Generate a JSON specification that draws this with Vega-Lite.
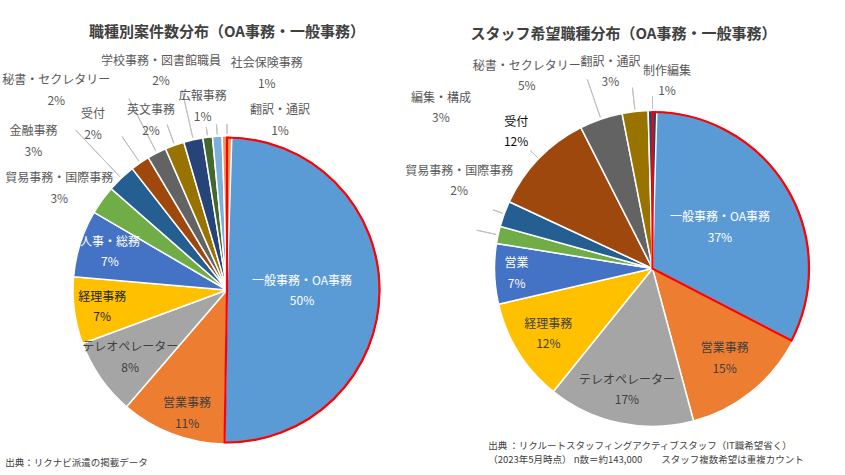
{
  "$schema": "https://vega.github.io/schema/vega-lite/v6.json",
  "background": "#FFFFFF",
  "padding": {"left": 2, "top": 24, "right": 5, "bottom": 0},
  "spacing": 20.5,
  "config": {
    "view": {"stroke": null},
    "font": "Noto Sans CJK JP",
    "title": {"font": "Noto Sans CJK JP"},
    "text": {"font": "Noto Sans CJK JP", "fontSize": 12, "lineBreak": "\n", "lineHeight": 20.5, "fill": "#595959"}
  },
  "resolve": {"scale": {"color": "independent", "theta": "independent"}},
  "hconcat": [
    {
      "title": {"text": "出典：リクナビ派遣の掲載データ", "orient": "bottom", "anchor": "start", "frame": "bounds", "dx": 3, "fontSize": 9.5, "fontWeight": "normal", "color": "#404040", "offset": 11},
      "vconcat": [
        {
          "width": 308,
          "height": 308,
          "title": {"text": "職種別案件数分布（OA事務・一般事務）", "fontSize": 15, "fontWeight": "bold", "color": "#404040", "frame": "group", "anchor": "middle", "dx": 0, "offset": 15},
          "data": {"values": [
            {"cat": "一般事務・OA事務", "v": 50, "o": 1},
            {"cat": "営業事務", "v": 11, "o": 2},
            {"cat": "テレオペレーター", "v": 8, "o": 3},
            {"cat": "経理事務", "v": 7, "o": 4},
            {"cat": "人事・総務", "v": 7, "o": 5},
            {"cat": "貿易事務・国際事務", "v": 3, "o": 6},
            {"cat": "金融事務", "v": 3, "o": 7},
            {"cat": "受付", "v": 2, "o": 8},
            {"cat": "秘書・セクレタリー", "v": 2, "o": 9},
            {"cat": "英文事務", "v": 2, "o": 10},
            {"cat": "学校事務・図書館職員", "v": 2, "o": 11},
            {"cat": "広報事務", "v": 1, "o": 12},
            {"cat": "社会保険事務", "v": 1, "o": 13},
            {"cat": "翻訳・通訳", "v": 1, "o": 14}
          ]},
          "transform": [
            {"stack": "v", "groupby": [], "sort": [{"field": "o", "order": "ascending"}], "as": ["a0", "a1"]},
            {"calculate": "(datum.a0 + datum.a1) / 2", "as": "mid"},
            {"calculate": "datum.cat + '\\n' + datum.v + '%'", "as": "label"}
          ],
          "layer": [
            {
              "mark": {"type": "arc", "outerRadius": 154, "stroke": "#FFFFFF", "strokeWidth": 1.5},
              "encoding": {
                "theta": {"field": "a0", "type": "quantitative"},
                "theta2": {"field": "a1"},
                "color": {"field": "cat", "type": "nominal", "legend": null,
                  "scale": {"domain": ["一般事務・OA事務", "営業事務", "テレオペレーター", "経理事務", "人事・総務", "貿易事務・国際事務", "金融事務", "受付", "秘書・セクレタリー", "英文事務", "学校事務・図書館職員", "広報事務", "社会保険事務", "翻訳・通訳"],
                    "range": ["#5B9BD5", "#ED7D31", "#A5A5A5", "#FFC000", "#4472C4", "#70AD47", "#255E91", "#9E480E", "#636363", "#997300", "#264478", "#43682B", "#7CAFDD", "#F1975A"]}}
              }
            },
            {
              "transform": [{"filter": "datum.o == 1"}],
              "mark": {"type": "arc", "outerRadius": 152.5, "fillOpacity": 0, "stroke": "#FF0000", "strokeWidth": 2.2},
              "encoding": {"theta": {"field": "a0", "type": "quantitative"}, "theta2": {"field": "a1"}}
            },
            {"transform": [{"filter": "datum.cat == '金融事務'"}], "mark": {"type": "arc", "innerRadius": 156, "outerRadius": 220, "fillOpacity": 0, "stroke": "#BFBFBF", "strokeWidth": 1}, "encoding": {"theta": {"field": "mid", "type": "quantitative"}, "theta2": {"field": "mid"}}},
            {"transform": [{"filter": "datum.cat == '受付'"}], "mark": {"type": "arc", "innerRadius": 156, "outerRadius": 186, "fillOpacity": 0, "stroke": "#BFBFBF", "strokeWidth": 1}, "encoding": {"theta": {"field": "mid", "type": "quantitative"}, "theta2": {"field": "mid"}}},
            {"transform": [{"filter": "datum.cat == '秘書・セクレタリー'"}], "mark": {"type": "arc", "innerRadius": 156, "outerRadius": 215, "fillOpacity": 0, "stroke": "#BFBFBF", "strokeWidth": 1}, "encoding": {"theta": {"field": "mid", "type": "quantitative"}, "theta2": {"field": "mid"}}},
            {"transform": [{"filter": "datum.cat == '英文事務'"}], "mark": {"type": "arc", "innerRadius": 156, "outerRadius": 176, "fillOpacity": 0, "stroke": "#BFBFBF", "strokeWidth": 1}, "encoding": {"theta": {"field": "mid", "type": "quantitative"}, "theta2": {"field": "mid"}}},
            {"transform": [{"filter": "datum.cat == '学校事務・図書館職員'"}], "mark": {"type": "arc", "innerRadius": 156, "outerRadius": 205, "fillOpacity": 0, "stroke": "#BFBFBF", "strokeWidth": 1}, "encoding": {"theta": {"field": "mid", "type": "quantitative"}, "theta2": {"field": "mid"}}},
            {"transform": [{"filter": "datum.cat == '広報事務'"}], "mark": {"type": "arc", "innerRadius": 156, "outerRadius": 164, "fillOpacity": 0, "stroke": "#BFBFBF", "strokeWidth": 1}, "encoding": {"theta": {"field": "mid", "type": "quantitative"}, "theta2": {"field": "mid"}}},
            {"transform": [{"filter": "datum.cat == '社会保険事務'"}], "mark": {"type": "arc", "innerRadius": 156, "outerRadius": 166, "fillOpacity": 0, "stroke": "#BFBFBF", "strokeWidth": 1}, "encoding": {"theta": {"field": "mid", "type": "quantitative"}, "theta2": {"field": "mid"}}},
            {"transform": [{"filter": "datum.cat == '翻訳・通訳'"}], "mark": {"type": "arc", "innerRadius": 156, "outerRadius": 166, "fillOpacity": 0, "stroke": "#BFBFBF", "strokeWidth": 1}, "encoding": {"theta": {"field": "mid", "type": "quantitative"}, "theta2": {"field": "mid"}}},
            {"transform": [{"filter": "datum.cat == '一般事務・OA事務'"}], "mark": {"type": "text", "radius": 75, "dy": -10, "fill": "#FFFFFF"}, "encoding": {"theta": {"field": "mid", "type": "quantitative"}, "text": {"field": "label", "type": "nominal"}}},
            {"transform": [{"filter": "datum.cat == '人事・総務'"}], "mark": {"type": "text", "radius": 126, "dx": 3, "dy": -10, "fill": "#FFFFFF"}, "encoding": {"theta": {"field": "mid", "type": "quantitative"}, "text": {"field": "label", "type": "nominal"}}},
            {"transform": [{"filter": "datum.cat == '経理事務'"}], "mark": {"type": "text", "radius": 126, "dy": -10, "fill": "#262626"}, "encoding": {"theta": {"field": "mid", "type": "quantitative"}, "text": {"field": "label", "type": "nominal"}}},
            {"transform": [{"filter": "datum.cat == 'テレオペレーター'"}], "mark": {"type": "text", "radius": 118, "dy": -10, "fill": "#404040"}, "encoding": {"theta": {"field": "mid", "type": "quantitative"}, "text": {"field": "label", "type": "nominal"}}},
            {"transform": [{"filter": "datum.cat == '営業事務'"}], "mark": {"type": "text", "radius": 132, "dx": 7, "dy": -10, "fill": "#404040"}, "encoding": {"theta": {"field": "mid", "type": "quantitative"}, "text": {"field": "label", "type": "nominal"}}},
            {"transform": [{"filter": "datum.cat == '貿易事務・国際事務'"}], "mark": {"type": "text", "radius": 193, "dx": -11, "dy": 1}, "encoding": {"theta": {"field": "mid", "type": "quantitative"}, "text": {"field": "label", "type": "nominal"}}},
            {"transform": [{"filter": "datum.cat == '金融事務'"}], "mark": {"type": "text", "radius": 238, "dx": -30, "dy": 14}, "encoding": {"theta": {"field": "mid", "type": "quantitative"}, "text": {"field": "label", "type": "nominal"}}},
            {"transform": [{"filter": "datum.cat == '受付'"}], "mark": {"type": "text", "radius": 209, "dx": -16, "dy": -3}, "encoding": {"theta": {"field": "mid", "type": "quantitative"}, "text": {"field": "label", "type": "nominal"}}},
            {"transform": [{"filter": "datum.cat == '秘書・セクレタリー'"}], "mark": {"type": "text", "radius": 257, "dx": -53.5, "dy": 19}, "encoding": {"theta": {"field": "mid", "type": "quantitative"}, "text": {"field": "label", "type": "nominal"}}},
            {"transform": [{"filter": "datum.cat == '英文事務'"}], "mark": {"type": "text", "radius": 185, "dx": -13, "dy": -6}, "encoding": {"theta": {"field": "mid", "type": "quantitative"}, "text": {"field": "label", "type": "nominal"}}},
            {"transform": [{"filter": "datum.cat == '学校事務・図書館職員'"}], "mark": {"type": "text", "radius": 228, "dx": -16, "dy": -7}, "encoding": {"theta": {"field": "mid", "type": "quantitative"}, "text": {"field": "label", "type": "nominal"}}},
            {"transform": [{"filter": "datum.cat == '広報事務'"}], "mark": {"type": "text", "radius": 185, "dx": -1, "dy": -10}, "encoding": {"theta": {"field": "mid", "type": "quantitative"}, "text": {"field": "label", "type": "nominal"}}},
            {"transform": [{"filter": "datum.cat == '社会保険事務'"}], "mark": {"type": "text", "radius": 209, "dx": 53, "dy": -18}, "encoding": {"theta": {"field": "mid", "type": "quantitative"}, "text": {"field": "label", "type": "nominal"}}},
            {"transform": [{"filter": "datum.cat == '翻訳・通訳'"}], "mark": {"type": "text", "radius": 168, "dx": 53, "dy": -12}, "encoding": {"theta": {"field": "mid", "type": "quantitative"}, "text": {"field": "label", "type": "nominal"}}}
          ]
        }
      ]
    },
    {
      "title": {"text": ["出典 ：リクルートスタッフィングアクティブスタッフ（IT職希望省く）", "（2023年5月時点） n数＝約143,000　　スタッフ複数希望は重複カウント"], "orient": "bottom", "anchor": "start", "frame": "bounds", "dx": 83, "fontSize": 9.5, "fontWeight": "normal", "color": "#404040", "offset": 11, "lineHeight": 14},
      "vconcat": [
        {
          "width": 316,
          "height": 265,
          "title": {"text": "スタッフ希望職種分布（OA事務・一般事務）", "fontSize": 15, "fontWeight": "bold", "color": "#404040", "frame": "group", "anchor": "middle", "dx": -29, "offset": 14},
          "data": {"values": [
            {"cat": "一般事務・OA事務", "v": 37, "o": 1},
            {"cat": "営業事務", "v": 15, "o": 2},
            {"cat": "テレオペレーター", "v": 17, "o": 3},
            {"cat": "経理事務", "v": 12, "o": 4},
            {"cat": "営業", "v": 7, "o": 5},
            {"cat": "貿易事務・国際事務", "v": 2, "o": 6},
            {"cat": "編集・構成", "v": 3, "o": 7},
            {"cat": "受付", "v": 12, "o": 8},
            {"cat": "秘書・セクレタリー", "v": 5, "o": 9},
            {"cat": "翻訳・通訳", "v": 3, "o": 10},
            {"cat": "制作編集", "v": 1, "o": 11}
          ]},
          "transform": [
            {"stack": "v", "groupby": [], "sort": [{"field": "o", "order": "ascending"}], "as": ["a0", "a1"]},
            {"calculate": "(datum.a0 + datum.a1) / 2", "as": "mid"},
            {"calculate": "datum.cat + '\\n' + datum.v + '%'", "as": "label"}
          ],
          "layer": [
            {
              "mark": {"type": "arc", "outerRadius": 158, "stroke": "#FFFFFF", "strokeWidth": 1.5},
              "encoding": {
                "theta": {"field": "a0", "type": "quantitative"},
                "theta2": {"field": "a1"},
                "color": {"field": "cat", "type": "nominal", "legend": null,
                  "scale": {"domain": ["一般事務・OA事務", "営業事務", "テレオペレーター", "経理事務", "営業", "貿易事務・国際事務", "編集・構成", "受付", "秘書・セクレタリー", "翻訳・通訳", "制作編集"],
                    "range": ["#5B9BD5", "#ED7D31", "#A5A5A5", "#FFC000", "#4472C4", "#70AD47", "#255E91", "#9E480E", "#636363", "#997300", "#264478"]}}
              }
            },
            {
              "transform": [{"filter": "datum.o == 1"}],
              "mark": {"type": "arc", "outerRadius": 156.5, "fillOpacity": 0, "stroke": "#FF0000", "strokeWidth": 2.2},
              "encoding": {"theta": {"field": "a0", "type": "quantitative"}, "theta2": {"field": "a1"}}
            },
            {"transform": [{"filter": "datum.cat == '貿易事務・国際事務'"}], "mark": {"type": "arc", "innerRadius": 160, "outerRadius": 180, "fillOpacity": 0, "stroke": "#BFBFBF", "strokeWidth": 1}, "encoding": {"theta": {"field": "mid", "type": "quantitative"}, "theta2": {"field": "mid"}}},
            {"transform": [{"filter": "datum.cat == '編集・構成'"}], "mark": {"type": "arc", "innerRadius": 160, "outerRadius": 170, "fillOpacity": 0, "stroke": "#BFBFBF", "strokeWidth": 1}, "encoding": {"theta": {"field": "mid", "type": "quantitative"}, "theta2": {"field": "mid"}}},
            {"transform": [{"filter": "datum.cat == '受付'"}], "mark": {"type": "arc", "innerRadius": 160, "outerRadius": 170, "fillOpacity": 0, "stroke": "#BFBFBF", "strokeWidth": 1}, "encoding": {"theta": {"field": "mid", "type": "quantitative"}, "theta2": {"field": "mid"}}},
            {"transform": [{"filter": "datum.cat == '秘書・セクレタリー'"}], "mark": {"type": "arc", "innerRadius": 160, "outerRadius": 200, "fillOpacity": 0, "stroke": "#BFBFBF", "strokeWidth": 1}, "encoding": {"theta": {"field": "mid", "type": "quantitative"}, "theta2": {"field": "mid"}}},
            {"transform": [{"filter": "datum.cat == '翻訳・通訳'"}], "mark": {"type": "arc", "innerRadius": 160, "outerRadius": 182, "fillOpacity": 0, "stroke": "#BFBFBF", "strokeWidth": 1}, "encoding": {"theta": {"field": "mid", "type": "quantitative"}, "theta2": {"field": "mid"}}},
            {"transform": [{"filter": "datum.cat == '制作編集'"}], "mark": {"type": "arc", "innerRadius": 160, "outerRadius": 172, "fillOpacity": 0, "stroke": "#BFBFBF", "strokeWidth": 1}, "encoding": {"theta": {"field": "mid", "type": "quantitative"}, "theta2": {"field": "mid"}}},
            {"transform": [{"filter": "datum.cat == '一般事務・OA事務'"}], "mark": {"type": "text", "radius": 79, "dy": -10, "fill": "#FFFFFF"}, "encoding": {"theta": {"field": "mid", "type": "quantitative"}, "text": {"field": "label", "type": "nominal"}}},
            {"transform": [{"filter": "datum.cat == '営業'"}], "mark": {"type": "text", "radius": 136, "dy": -10, "fill": "#FFFFFF"}, "encoding": {"theta": {"field": "mid", "type": "quantitative"}, "text": {"field": "label", "type": "nominal"}}},
            {"transform": [{"filter": "datum.cat == '営業事務'"}], "mark": {"type": "text", "radius": 115, "dy": -10, "fill": "#404040"}, "encoding": {"theta": {"field": "mid", "type": "quantitative"}, "text": {"field": "label", "type": "nominal"}}},
            {"transform": [{"filter": "datum.cat == 'テレオペレーター'"}], "mark": {"type": "text", "radius": 124, "dy": -10, "fill": "#404040"}, "encoding": {"theta": {"field": "mid", "type": "quantitative"}, "text": {"field": "label", "type": "nominal"}}},
            {"transform": [{"filter": "datum.cat == '経理事務'"}], "mark": {"type": "text", "radius": 123, "dy": -10, "fill": "#404040"}, "encoding": {"theta": {"field": "mid", "type": "quantitative"}, "text": {"field": "label", "type": "nominal"}}},
            {"transform": [{"filter": "datum.cat == '貿易事務・国際事務'"}], "mark": {"type": "text", "radius": 205, "dx": 7, "dy": -54}, "encoding": {"theta": {"field": "mid", "type": "quantitative"}, "text": {"field": "label", "type": "nominal"}}},
            {"transform": [{"filter": "datum.cat == '編集・構成'"}], "mark": {"type": "text", "radius": 251, "dx": 24, "dy": -84}, "encoding": {"theta": {"field": "mid", "type": "quantitative"}, "text": {"field": "label", "type": "nominal"}}},
            {"transform": [{"filter": "datum.cat == '受付'"}], "mark": {"type": "text", "radius": 191, "dx": 1, "dy": -14, "fill": "#0D0D0D"}, "encoding": {"theta": {"field": "mid", "type": "quantitative"}, "text": {"field": "label", "type": "nominal"}}},
            {"transform": [{"filter": "datum.cat == '秘書・セクレタリー'"}], "mark": {"type": "text", "radius": 223, "dx": -53, "dy": 8}, "encoding": {"theta": {"field": "mid", "type": "quantitative"}, "text": {"field": "label", "type": "nominal"}}},
            {"transform": [{"filter": "datum.cat == '翻訳・通訳'"}], "mark": {"type": "text", "radius": 200, "dx": -20, "dy": -8}, "encoding": {"theta": {"field": "mid", "type": "quantitative"}, "text": {"field": "label", "type": "nominal"}}},
            {"transform": [{"filter": "datum.cat == '制作編集'"}], "mark": {"type": "text", "radius": 187, "dx": 14.5, "dy": -11}, "encoding": {"theta": {"field": "mid", "type": "quantitative"}, "text": {"field": "label", "type": "nominal"}}}
          ]
        }
      ]
    }
  ]
}
